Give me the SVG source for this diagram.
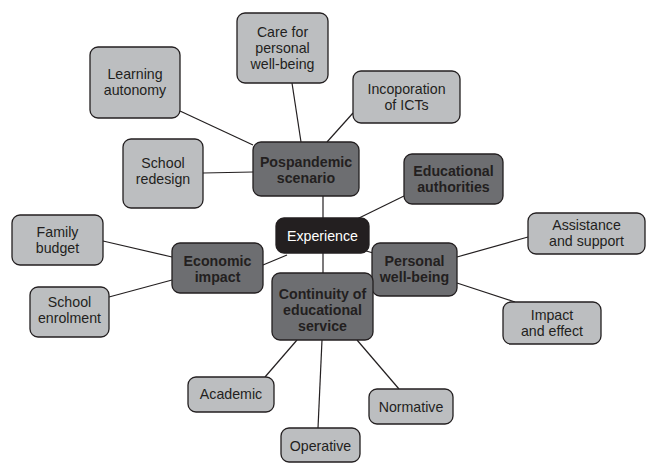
<svg xmlns="http://www.w3.org/2000/svg" width="646" height="463" viewBox="0 0 646 463">
  <style>
    .leaf rect { fill: #bcbec0; stroke: #231f20; stroke-width: 1.3; }
    .hub rect { fill: #6d6e71; stroke: #231f20; stroke-width: 1.3; }
    .core rect { fill: #231f20; stroke: #231f20; stroke-width: 1.3; }
    text { font-family: "Liberation Sans", Arial, sans-serif; font-size: 14.2px; text-anchor: middle; fill: #231f20; }
    .hub text { font-weight: bold; }
    .core text { fill: #ffffff; }
    #connectors line { stroke: #231f20; stroke-width: 1.2; }
  </style>
  <rect width="646" height="463" fill="#ffffff"/>

  <!-- connectors -->
  <g id="connectors">
    <line x1="180" y1="111" x2="253" y2="145"/>
    <line x1="292" y1="83" x2="301" y2="142"/>
    <line x1="203" y1="173" x2="253" y2="172"/>
    <line x1="353" y1="113" x2="327" y2="142"/>
    <line x1="323" y1="196" x2="323" y2="218"/>
    <line x1="404" y1="196" x2="357" y2="219"/>
    <line x1="263" y1="265" x2="287" y2="255"/>
    <line x1="103" y1="241" x2="172" y2="257"/>
    <line x1="109" y1="297" x2="172" y2="280"/>
    <line x1="323" y1="253" x2="323" y2="273"/>
    <line x1="363" y1="250" x2="373" y2="253"/>
    <line x1="457" y1="257" x2="528" y2="237"/>
    <line x1="457" y1="283" x2="515" y2="302"/>
    <line x1="297" y1="340" x2="265" y2="377"/>
    <line x1="322" y1="340" x2="318" y2="428"/>
    <line x1="357" y1="340" x2="399" y2="389"/>
  </g>

  <!-- nodes: multi-line labels are one text with a tspan per line -->
  <g id="care" class="leaf">
    <rect x="237" y="13" width="91" height="70" rx="8"/>
    <text x="282.5" y="37">Care for<tspan x="282.5" dy="16">personal</tspan><tspan x="282.5" dy="16">well-being</tspan></text>
  </g>
  <g id="learning" class="leaf">
    <rect x="90" y="47" width="90" height="71" rx="8"/>
    <text x="135" y="79">Learning<tspan x="135" dy="16">autonomy</tspan></text>
  </g>
  <g id="redesign" class="leaf">
    <rect x="123" y="139" width="80" height="69" rx="8"/>
    <text x="163" y="168">School<tspan x="163" dy="16">redesign</tspan></text>
  </g>
  <g id="pospandemic" class="hub">
    <rect x="253" y="142" width="106" height="54" rx="8"/>
    <text x="306" y="167">Pospandemic<tspan x="306" dy="16">scenario</tspan></text>
  </g>
  <g id="icts" class="leaf">
    <rect x="353" y="71" width="107" height="52" rx="8"/>
    <text x="406.5" y="94">Incoporation<tspan x="406.5" dy="16">of ICTs</tspan></text>
  </g>
  <g id="authorities" class="hub">
    <rect x="404" y="154" width="99" height="50" rx="8"/>
    <text x="453.5" y="176">Educational<tspan x="453.5" dy="16">authorities</tspan></text>
  </g>
  <g id="experience" class="core">
    <rect x="276" y="218" width="93" height="35" rx="8"/>
    <text x="322.5" y="241">Experience</text>
  </g>
  <g id="budget" class="leaf">
    <rect x="12" y="215" width="91" height="50" rx="8"/>
    <text x="57.5" y="237">Family<tspan x="57.5" dy="16">budget</tspan></text>
  </g>
  <g id="economic" class="hub">
    <rect x="172" y="243" width="91" height="50" rx="8"/>
    <text x="217.5" y="266">Economic<tspan x="217.5" dy="16">impact</tspan></text>
  </g>
  <g id="enrolment" class="leaf">
    <rect x="30" y="287" width="79" height="50" rx="8"/>
    <text x="69.5" y="307">School<tspan x="69.5" dy="16">enrolment</tspan></text>
  </g>
  <g id="personal" class="hub">
    <rect x="372" y="243" width="85" height="53" rx="8"/>
    <text x="414.5" y="266">Personal<tspan x="414.5" dy="16">well-being</tspan></text>
  </g>
  <g id="continuity" class="hub">
    <rect x="272" y="273" width="101" height="67" rx="8"/>
    <text x="322.5" y="299">Continuity of<tspan x="322.5" dy="16">educational</tspan><tspan x="322.5" dy="16">service</tspan></text>
  </g>
  <g id="assistance" class="leaf">
    <rect x="528" y="213" width="117" height="41" rx="8"/>
    <text x="586.5" y="230">Assistance<tspan x="586.5" dy="16">and support</tspan></text>
  </g>
  <g id="impact" class="leaf">
    <rect x="503" y="302" width="98" height="42" rx="8"/>
    <text x="552" y="320">Impact<tspan x="552" dy="16">and effect</tspan></text>
  </g>
  <g id="academic" class="leaf">
    <rect x="188" y="377" width="86" height="35" rx="8"/>
    <text x="231" y="399">Academic</text>
  </g>
  <g id="normative" class="leaf">
    <rect x="369" y="389" width="84" height="35" rx="8"/>
    <text x="411" y="412">Normative</text>
  </g>
  <g id="operative" class="leaf">
    <rect x="281" y="428" width="79" height="34" rx="8"/>
    <text x="320.5" y="451">Operative</text>
  </g>
</svg>
